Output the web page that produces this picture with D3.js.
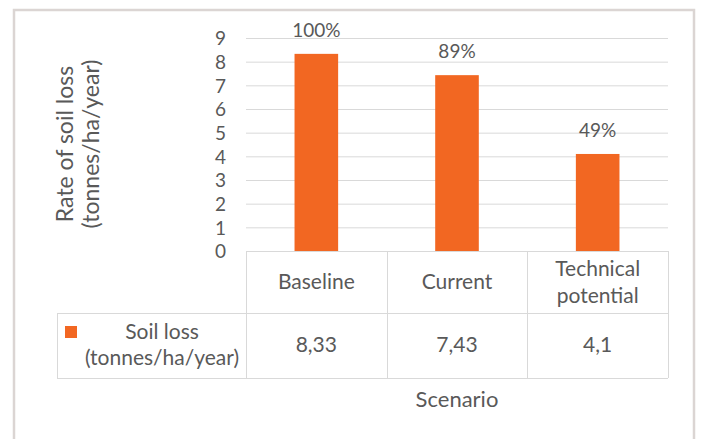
<!DOCTYPE html>
<html>
<head>
<meta charset="utf-8">
<script src="https://cdn.jsdelivr.net/npm/d3@7"></script>
<style>
  body { margin: 0; background: #fff; }
  text { font-family: Lato, "Open Sans", sans-serif; fill: #595959; }
</style>
</head>
<body>
<svg></svg>
<script>
// data
var scenarios = ["Baseline", "Current", "Technical potential"]
var soilLoss = [8.33, 7.43, 4.1]
var shareLabels = ["100%", "89%", "49%"]
var tableValues = ["8,33", "7,43", "4,1"]
var yTicks = [0, 1, 2, 3, 4, 5, 6, 7, 8, 9]
var seriesName = ["Soil loss", "(tonnes/ha/year)"]
var yTitle = ["Rate of soil loss", "(tonnes/ha/year)"]
var xTitle = "Scenario"

var width = 701
var height = 439
var grid = "#d9d9d9"
var orange = "#f26722"

var svg = d3.select("svg")
  .attr("width", width)
  .attr("height", height)

// outer frame
svg.append("rect")
  .attr("x", 14).attr("y", 10)
  .attr("width", 680).attr("height", 440)
  .attr("fill", "none")
  .attr("stroke", "#dbd5d3")
  .attr("stroke-width", 2.5)

var x = d3.scaleBand()
  .domain(scenarios)
  .range([246, 668])
  .padding(0)

var y = d3.scaleLinear()
  .domain([0, 9])
  .range([251, 38])

// gridlines
svg.append("g")
  .selectAll("line")
  .data(yTicks)
  .enter().append("line")
  .attr("x1", 246).attr("x2", 668)
  .attr("y1", function (d) { return y(d) + 0.5 })
  .attr("y2", function (d) { return y(d) + 0.5 })
  .attr("stroke", grid)
  .attr("stroke-width", 1)

// y tick labels
var yAxis = svg.append("g")
  .attr("transform", "translate(232,0)")
  .call(d3.axisLeft(y).tickValues(yTicks).tickSize(0).tickPadding(0))
yAxis.select(".domain").remove()
yAxis.selectAll("text")
  .attr("font-family", null)
  .attr("font-size", null)
  .style("font-size", "19px")
  .attr("dy", "0.36em")
  .attr("x", -6)

// bars
var barW = x.bandwidth() * 0.31
svg.append("g")
  .selectAll("rect")
  .data(scenarios)
  .enter().append("rect")
  .attr("x", function (d) { return x(d) + x.bandwidth() / 2 - barW / 2 })
  .attr("y", function (d, i) { return y(soilLoss[i]) })
  .attr("width", barW)
  .attr("height", function (d, i) { return y(0) - y(soilLoss[i]) })
  .attr("fill", orange)

// percentage labels
svg.append("g")
  .selectAll("text")
  .data(scenarios)
  .enter().append("text")
  .attr("x", function (d) { return x(d) + x.bandwidth() / 2 })
  .attr("y", function (d, i) { return y(soilLoss[i]) - 17 })
  .attr("text-anchor", "middle")
  .style("font-size", "19px")
  .text(function (d, i) { return shareLabels[i] })

// y axis title
var yt = svg.append("text")
  .attr("transform", "translate(0,144) rotate(-90)")
  .attr("text-anchor", "middle")
  .style("font-size", "23px")
yt.selectAll("tspan")
  .data(yTitle)
  .enter().append("tspan")
  .attr("x", 0)
  .attr("y", function (d, i) { return 73 + i * 26 })
  .text(function (d) { return d })

// data table
var tbl = svg.append("g")
  .attr("stroke", grid)
  .attr("stroke-width", 1)
  .attr("fill", "none")
var rowTop = 251, rowMid = 313, rowBot = 378, tblLeft = 57
tbl.append("line").attr("x1", 246).attr("x2", 668).attr("y1", rowTop + 0.5).attr("y2", rowTop + 0.5)
tbl.append("line").attr("x1", tblLeft).attr("x2", 668).attr("y1", rowMid + 0.5).attr("y2", rowMid + 0.5)
tbl.append("line").attr("x1", tblLeft).attr("x2", 668).attr("y1", rowBot + 0.5).attr("y2", rowBot + 0.5)
tbl.append("line").attr("x1", tblLeft + 0.5).attr("x2", tblLeft + 0.5).attr("y1", rowMid).attr("y2", rowBot)
tbl.selectAll("line.col")
  .data(scenarios.concat(["end"]))
  .enter().append("line")
  .attr("class", "col")
  .attr("x1", function (d, i) { return Math.round(246 + i * x.step()) + 0.5 })
  .attr("x2", function (d, i) { return Math.round(246 + i * x.step()) + 0.5 })
  .attr("y1", rowTop).attr("y2", rowBot)

// category headers
var hdr = svg.append("g")
  .selectAll("text")
  .data(scenarios)
  .enter().append("text")
  .attr("text-anchor", "middle")
  .style("font-size", "21px")
hdr.each(function (d) {
  var words = d.split(" ")
  var t = d3.select(this)
  var cx = x(d) + x.bandwidth() / 2
  words.forEach(function (w, i) {
    t.append("tspan")
      .attr("x", cx)
      .attr("y", 289 - (words.length - 1) * 13.5 + i * 27)
      .text(w)
  })
})

// legend key + series name
svg.append("rect")
  .attr("x", 65).attr("y", 326)
  .attr("width", 12).attr("height", 12)
  .attr("fill", orange)
svg.append("g")
  .selectAll("text")
  .data(seriesName)
  .enter().append("text")
  .attr("x", 162)
  .attr("y", function (d, i) { return 339 + i * 26 })
  .attr("text-anchor", "middle")
  .style("font-size", "21px")
  .text(function (d) { return d })

// values row
svg.append("g")
  .selectAll("text")
  .data(scenarios)
  .enter().append("text")
  .attr("x", function (d) { return x(d) + x.bandwidth() / 2 })
  .attr("y", 352)
  .attr("text-anchor", "middle")
  .style("font-size", "21px")
  .text(function (d, i) { return tableValues[i] })

// x axis title
svg.append("text")
  .attr("x", 457)
  .attr("y", 407)
  .attr("text-anchor", "middle")
  .style("font-size", "22px")
  .text(xTitle)
</script>
</body>
</html>
